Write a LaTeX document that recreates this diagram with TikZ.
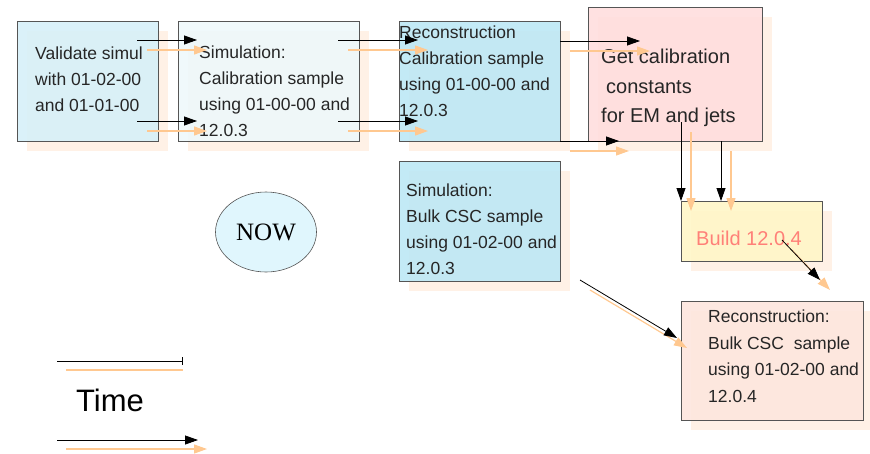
\documentclass[tikz,border=0pt]{standalone}
\usepackage{fontspec}
\setmainfont{Liberation Sans}
\newfontfamily\nowfont{Liberation Serif}
\usetikzlibrary{shapes.geometric,arrows.meta}

\definecolor{valfill}{HTML}{D6F0F8}
\definecolor{simfill}{HTML}{EEF8FB}
\definecolor{recfill}{HTML}{BDE8F5}
\definecolor{calfill}{HTML}{FFDEDE}
\definecolor{buildfill}{HTML}{FFF6C8}
\definecolor{bulkfill}{HTML}{FDE6DE}
\definecolor{nowfill}{HTML}{E0F6FD}
\definecolor{shadowcol}{HTML}{FFF1E6}
\definecolor{flowcol}{HTML}{FFC890}
\definecolor{buildtext}{HTML}{FF8078}
\definecolor{edgecol}{HTML}{555555}

\tikzset{
  stage/.style={draw=edgecol, line width=0.9pt, fill opacity=0.9, inner sep=0pt, anchor=north west},
  stagetext/.style={font=\fontsize{17.5}{26}\selectfont, align=left, inner sep=0pt, anchor=west, text=black!85},
  bigtext/.style={stagetext, font=\fontsize{20}{29.5}\selectfont},
  flow/.style={-{Triangle[length=13pt,width=9pt]}, line width=0.8pt, black},
  flowshadow/.style={-{Triangle[length=13pt,width=9pt]}, line width=1.2pt, flowcol},
}

% shadow of a box, shifted down right
\newcommand{\boxshadow}[2]{%
  \fill[shadowcol] (#1) ++(9.5,9.5) rectangle ++(#2);
}
% arrow with its shadow
\newcommand{\flowarrow}[2]{%
  \draw[flowshadow] ([shift={(10,10)}]#1) -- ([shift={(10,10)}]#2);
  \draw[flow] (#1) -- (#2);
}

\begin{document}
\begin{tikzpicture}[x=1pt,y=-1pt]
\useasboundingbox (0,0) rectangle (870,453);

% shadows
\boxshadow{17,21}{141,120}
\boxshadow{178,21}{181,120}
\boxshadow{399,21}{161,120}
\boxshadow{588,7}{174,134}
\boxshadow{399,161}{161,120}
\boxshadow{681,201}{141,60}
\boxshadow{681,301}{182,119}

% boxes
\node[stage, fill=valfill, minimum width=141pt, minimum height=120pt] (valid) at (17,21) {};
\node[stage, fill=simfill, minimum width=181pt, minimum height=120pt] (simcal) at (178,21) {};
\node[stage, fill=recfill, minimum width=161pt, minimum height=120pt] (reccal) at (399,21) {};
\node[stage, fill=calfill, minimum width=174pt, minimum height=134pt] (consts) at (588,7) {};
\node[stage, fill=recfill, minimum width=161pt, minimum height=120pt] (simbulk) at (399,161) {};
\node[stage, fill=buildfill, minimum width=141pt, minimum height=60pt] (build) at (681,201) {};
\node[stage, fill=bulkfill, minimum width=182pt, minimum height=119pt] (recbulk) at (681,301) {};

% texts
\node[stagetext] (validtxt) at (35,79) {Validate simul\\with 01-02-00\\and 01-01-00};
\node[stagetext] (simcaltxt) at (199,91) {Simulation:\\Calibration sample\\using 01-00-00 and\\12.0.3};
\node[stagetext] (reccaltxt) at (399,71) {Reconstruction\\Calibration sample\\using 01-00-00 and\\12.0.3};
\node[bigtext] (conststxt) at (601,88) {Get calibration\\\hspace{5pt}constants\\for EM and jets};
\node[stagetext] (simbulktxt) at (406,229) {Simulation:\\Bulk CSC sample\\using 01-02-00 and\\12.0.3};
\node[bigtext, text=buildtext] (buildtxt) at (696,238) {Build 12.0.4};
\node[stagetext, font=\fontsize{17.5}{26.5}\selectfont] (recbulktxt) at (708,356) {Reconstruction:\\Bulk CSC\ \ sample\\using 01-02-00 and\\12.0.4};

% now
\node[ellipse, draw=edgecol, line width=0.6pt, fill=nowfill, minimum width=101pt, minimum height=80pt, inner sep=0pt, font=\nowfont\fontsize{25}{30}\selectfont] (now) at (266,232) {NOW};

% arrow ends
\coordinate (va1) at (137,40);  \coordinate (sc1) at (197,40);
\coordinate (va2) at (137,121); \coordinate (sc2) at (197,121);
\coordinate (sc3) at (338,40);  \coordinate (rc1) at (418,40);
\coordinate (sc4) at (338,121); \coordinate (rc2) at (418,121);
\coordinate (rc3) at (560,41);  \coordinate (co1) at (640,41);
\coordinate (rc4) at (560,141); \coordinate (co2) at (619,141);
\coordinate (co3) at (681,122); \coordinate (bu1) at (681,201);
\coordinate (co4) at (721,141); \coordinate (bu2) at (721,201);
\coordinate (bu3) at (782,240); \coordinate (rb1) at (820,280);
\coordinate (sb1) at (580,280); \coordinate (rb2) at (677,338);

\flowarrow{va1}{sc1}
\flowarrow{va2}{sc2}
\flowarrow{sc3}{rc1}
\flowarrow{sc4}{rc2}
\flowarrow{rc3}{co1}
\flowarrow{rc4}{co2}
\flowarrow{co3}{bu1}
\flowarrow{co4}{bu2}
\flowarrow{bu3}{rb1}
\flowarrow{sb1}{rb2}

% time legend
\coordinate (tl1) at (57,361);  \coordinate (tr1) at (183,361);
\coordinate (tl2) at (57,440);  \coordinate (tr2) at (198,440);
\draw[flowcol, line width=1.2pt] ([shift={(9,9)}]tl1) -- ([shift={(0,9)}]tr1);
\draw[-{Bar[width=8pt]}, line width=0.8pt] (tl1) -- (tr1);
\node[font=\fontsize{31}{36}\selectfont, anchor=west, inner sep=0pt] (time) at (76,400) {Time};
\draw[flowshadow] ([shift={(9,9)}]tl2) -- ([shift={(9,9)}]tr2);
\draw[flow] (tl2) -- (tr2);
\end{tikzpicture}
\end{document}
